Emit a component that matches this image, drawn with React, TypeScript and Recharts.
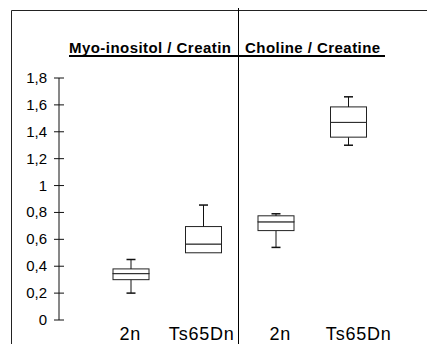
import { Bar, ComposedChart, XAxis, YAxis } from "recharts";

// group labels and box statistics
const groups = ["2n", "Ts65Dn", "2n", "Ts65Dn"];
const mins = [0.2, 0.5, 0.54, 1.3];
const q1s = [0.3, 0.5, 0.665, 1.36];
const medians = [0.345, 0.565, 0.73, 1.47];
const q3s = [0.38, 0.695, 0.775, 1.585];
const maxs = [0.45, 0.855, 0.79, 1.66];
const yTicks = [0, 0.2, 0.4, 0.6, 0.8, 1, 1.2, 1.4, 1.6, 1.8];
const titles = ["Myo-inositol / Creatin", "Choline / Creatine"];

const data = groups.map((g, i) => ({
  id: i,
  name: g,
  base: mins[i],
  lowWhisker: q1s[i] - mins[i],
  boxLow: medians[i] - q1s[i],
  boxHigh: q3s[i] - medians[i],
  highWhisker: maxs[i] - q3s[i],
}));

const INK = "#111";
const CAP = 4.5;

const Empty = () => <g />;

const BoxPart = (p: any) => (
  <rect x={p.x} y={p.y} width={p.width} height={p.height} fill="#fff" stroke="#222" strokeWidth={1} />
);

const Whisker = (top: boolean) => (p: any) => {
  if (!p.height || p.height < 0.5) return <g />;
  const cx = p.x + p.width / 2;
  const capY = top ? p.y : p.y + p.height;
  return (
    <g stroke={INK} strokeWidth={1}>
      <line x1={cx} x2={cx} y1={p.y} y2={p.y + p.height} />
      <line x1={cx - CAP} x2={cx + CAP} y1={capY} y2={capY} strokeWidth={1.5} />
    </g>
  );
};

const labelShift = [-1, -2, 4, 10];

const XTick = (p: any) => {
  const i = p.payload.value;
  return (
    <text
      x={p.x + labelShift[i]}
      y={p.y + 20}
      textAnchor="middle"
      fontSize={18}
      letterSpacing={0.8}
      fill="#000"
      fontFamily="'Liberation Sans', Arial, sans-serif"
    >
      {groups[i]}
    </text>
  );
};

const YTick = (p: any) => (
  <g>
    <line x1={p.x - 5} x2={p.x + 5} y1={p.y} y2={p.y} stroke={INK} />
    <text
      x={p.x - 12}
      y={p.y + 5}
      textAnchor="end"
      fontSize={15}
      fill="#000"
      fontFamily="'Liberation Sans', Arial, sans-serif"
    >
      {String(p.payload.value).replace(".", ",")}
    </text>
  </g>
);

export default function App() {
  return (
    <div style={{ position: "absolute", left: 0, top: 0, width: 427, height: 344, background: "#fff" }}>
      <ComposedChart
        width={427}
        height={344}
        data={data}
        margin={{ top: 78, right: 42, bottom: 0, left: 9 }}
      >
        <XAxis
          dataKey="id"
          axisLine={false}
          tickLine={false}
          tickSize={0}
          tickMargin={0}
          height={24}
          interval={0}
          padding={{ left: 36, right: 0 }}
          tick={<XTick />}
        />
        <YAxis
          domain={[0, 1.8]}
          ticks={yTicks}
          width={50}
          axisLine={{ stroke: INK }}
          tickLine={false}
          tickSize={0}
          tickMargin={0}
          interval={0}
          tick={<YTick />}
        />
        <Bar dataKey="base" stackId="b" barSize={36} shape={<Empty />} isAnimationActive={false} />
        <Bar dataKey="lowWhisker" stackId="b" barSize={36} shape={Whisker(false)} isAnimationActive={false} />
        <Bar dataKey="boxLow" stackId="b" barSize={36} shape={<BoxPart />} isAnimationActive={false} />
        <Bar dataKey="boxHigh" stackId="b" barSize={36} shape={<BoxPart />} isAnimationActive={false} />
        <Bar dataKey="highWhisker" stackId="b" barSize={36} shape={Whisker(true)} isAnimationActive={false} />
      </ComposedChart>
      <svg
        width={427}
        height={344}
        style={{ position: "absolute", left: 0, top: 0, pointerEvents: "none" }}
        fontFamily="'Liberation Sans', Arial, sans-serif"
      >
        <path d="M11.5 344 V10.5 H427" fill="none" stroke="#222" strokeWidth={1} />
        <line x1={238.5} x2={238.5} y1={8} y2={344} stroke="#000" />
        <text x={69} y={53} fontSize={15} fontWeight="bold" letterSpacing={0.45} fill="#000">
          {titles[0]}
        </text>
        <text x={245} y={53} fontSize={15} fontWeight="bold" letterSpacing={0.45} fill="#000">
          {titles[1]}
        </text>
        <rect x={69} y={55} width={316} height={2} fill="#000" />
      </svg>
    </div>
  );
}
